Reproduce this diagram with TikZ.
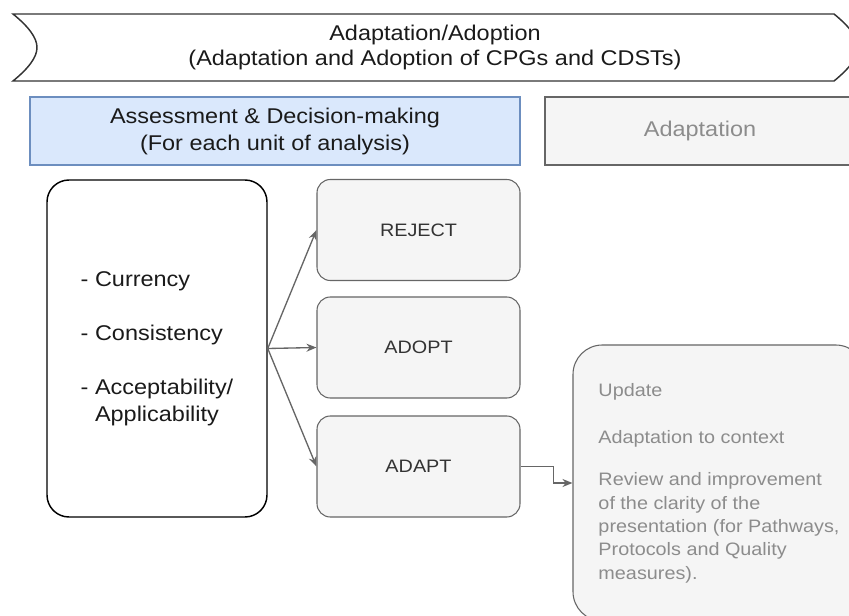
\documentclass[tikz,border=0pt]{standalone}
\usepackage{fontspec}
\setmainfont{Liberation Sans}[FakeStretch=1.1]
\usetikzlibrary{arrows.meta}
\definecolor{ink}{RGB}{26, 26, 26}
\definecolor{frame}{RGB}{51, 51, 51}
\definecolor{bluefill}{RGB}{218, 232, 252}
\definecolor{blueline}{RGB}{108, 142, 191}
\definecolor{greyfill}{RGB}{245, 245, 245}
\definecolor{greyline}{RGB}{102, 102, 102}
\definecolor{greytext}{RGB}{140, 140, 140}

\begin{document}
\begin{tikzpicture}[x=0.75pt, y=-0.75pt,
            bigtext/.style={font=\fontsize{16}{20.25}\selectfont, text=ink, align=center},
            smalltext/.style={font=\fontsize{13.5}{17.5}\selectfont},
            header/.style={draw, rectangle, inner sep=0pt, line width=0.8pt, minimum height=51pt},
            choice/.style={draw=greyline, fill=greyfill, rounded corners=10pt, line width=0.8pt,
                minimum width=152.25pt, minimum height=75.75pt, smalltext, text=frame},
            link/.style={draw=greyline, line width=1pt, -{Stealth[length=7.5pt, width=6pt]}}]
            \useasboundingbox (0, 0) rectangle (849, 616);
            \clip (0, 0) rectangle (849, 616);
            \draw[color=frame, line width=1.1pt] (13, 14) -- (834, 14)
                .. controls (850, 27) and (858, 38) .. (858, 47.5)
                .. controls (858, 57) and (850, 68) .. (834, 81) -- (13, 81)
                .. controls (29, 68) and (37, 57) .. (37, 47.5)
                .. controls (37, 38) and (29, 27) .. (13, 14) -- cycle;
            \node[bigtext, font=\fontsize{16}{18.5}\selectfont](banner) at (435, 47.5) {Adaptation/Adoption\\(Adaptation and Adoption of CPGs and CDSTs)};
            \node[header, bigtext, draw=blueline, fill=bluefill, minimum width=367.5pt](assess) at (275, 131) {Assessment \& Decision-making\\(For each unit of analysis)};
            \node[header, bigtext, draw=greyline, fill=greyfill, text=greytext, minimum width=232.5pt](adaptation) at (700, 131) {Adaptation};
            \node[draw=black, fill=white, rounded corners=16.5pt, line width=1.1pt, bigtext, align=left,
                minimum width=165pt, minimum height=252.75pt](criteria) at (157, 348.5)
                {- Currency\\[20.25pt]- Consistency\\[20.25pt]- Acceptability/\\\hphantom{- }Applicability};
            \node[choice](reject) at (418.5, 230) {REJECT};
            \node[choice](adopt) at (418.5, 347.5) {ADOPT};
            \node[choice](adapt) at (418.5, 466.5) {ADAPT};
            \node[draw=greyline, fill=greyfill, rounded corners=22pt, line width=0.8pt, smalltext, text=greytext,
                align=left, minimum width=219pt, minimum height=207pt](update) at (719, 483)
                {Update\\[18pt]Adaptation to context\\[14.25pt]Review and improvement\\of the clarity of the\\presentation (for Pathways,\\Protocols and Quality\\measures).};
            \draw[link] (criteria.east) -- (reject.west);
            \draw[link] (criteria.east) -- (adopt.west);
            \draw[link] (criteria.east) -- (adapt.west);
            \draw[link] (adapt.east) -- ++(33, 0) |- (update.west);
        \end{tikzpicture}
\end{document}
